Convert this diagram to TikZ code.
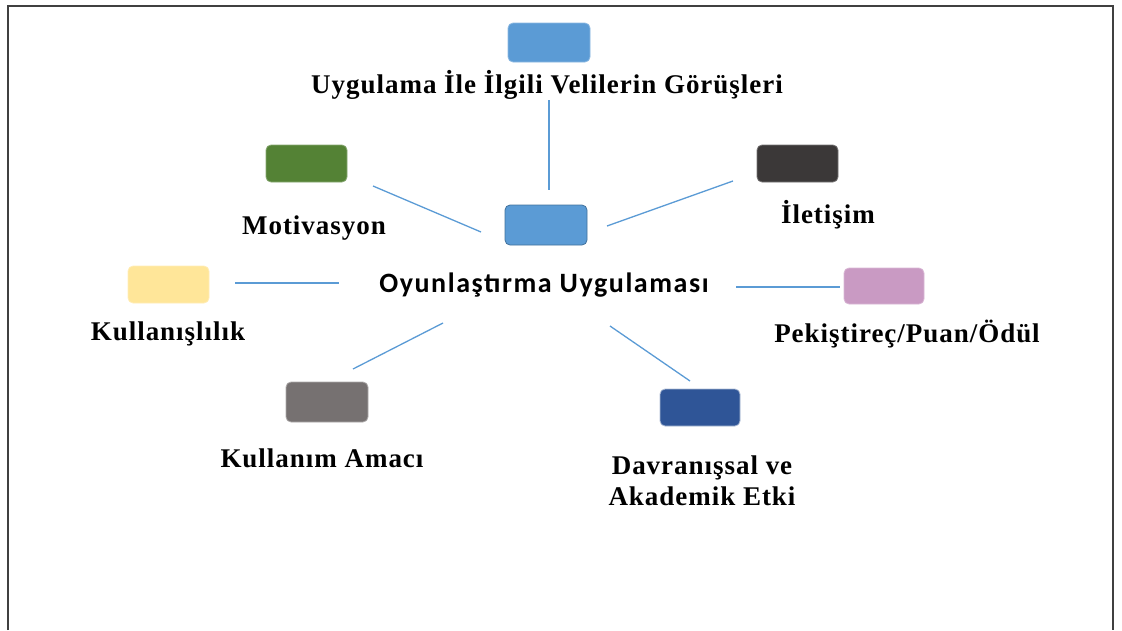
\documentclass[tikz,border=0pt]{standalone}
\usepackage{fontspec}
\setmainfont{Liberation Serif}
\newfontfamily\labelfont{Liberation Serif}[LetterSpace=3.6]
\newfontfamily\hubfont{Carlito}[LetterSpace=5.6]
\definecolor{cBlue}{HTML}{5B9BD5}
\definecolor{cBlueEdge}{HTML}{41719C}
\definecolor{cGreen}{HTML}{548235}
\definecolor{cDark}{HTML}{3B3838}
\definecolor{cYellow}{HTML}{FFE699}
\definecolor{cPink}{HTML}{C99AC3}
\definecolor{cGray}{HTML}{767171}
\definecolor{cNavy}{HTML}{2F5597}
\definecolor{cFrame}{HTML}{404040}
\begin{document}
\begin{tikzpicture}[x=1pt,y=-1pt,
  tile/.style={rounded corners=5pt,line width=0.8pt},
  lbl/.style={anchor=base,inner sep=0pt,align=center,
    font=\labelfont\bfseries\fontsize{27}{31}\selectfont},
  spoke/.style={draw=cBlue,line width=1.3pt}]
\useasboundingbox (0,0) rectangle (1122,630);
% outer frame (open at the bottom)
\draw[cFrame,line width=2pt] (8,630) -- (8,6) -- (1113,6) -- (1113,630);

% coloured tiles
\filldraw[tile,fill=cBlue,draw=cBlue!70!white] (508,23) rectangle (590,62);
\filldraw[tile,fill=cBlue,draw=cBlueEdge] (505,205) rectangle (587,245);
\filldraw[tile,fill=cGreen,draw=cGreen!70!white] (266,145) rectangle (347,182);
\filldraw[tile,fill=cDark,draw=cDark!70!white] (757,145) rectangle (838,182);
\filldraw[tile,fill=cYellow,draw=cYellow!70!white] (128,266) rectangle (209,303);
\filldraw[tile,fill=cPink,draw=cPink!70!white] (844,268) rectangle (924,304);
\filldraw[tile,fill=cGray,draw=cGray!60!white] (286,382) rectangle (368,422);
\filldraw[tile,fill=cNavy,draw=cNavy!40!white] (660,389) rectangle (740,426);

% labels
\node[lbl] (veli) at (547,93) {Uygulama İle İlgili Velilerin Görüşleri};
\node[lbl] (motiv) at (314,234) {Motivasyon};
\node[lbl] (ilet) at (828,223) {İletişim};
\node[anchor=base,inner sep=0pt,font=\hubfont\bfseries\fontsize{28}{32}\selectfont]
  (hub) at (544,292) {Oyunlaştırma Uygulaması};
\node[lbl] (kull) at (168,340) {Kullanışlılık};
\node[lbl] (pek) at (907,342) {Pekiştireç/Puan/Ödül};
\node[lbl] (amac) at (322,467) {Kullanım Amacı};
\node[lbl] (davr) at (702,505) {Davranışsal ve\\Akademik Etki};

% spoke end points
\coordinate (vA) at (549,100);  \coordinate (vB) at (549,190);
\coordinate (mA) at (373,186);  \coordinate (mB) at (481,232);
\coordinate (iA) at (607,226);  \coordinate (iB) at (733,181);
\coordinate (kA) at (235,283);  \coordinate (kB) at (339,283);
\coordinate (pA) at (736,287);  \coordinate (pB) at (840,287);
\coordinate (aA) at (353,369);  \coordinate (aB) at (443,323);
\coordinate (dA) at (610,326);  \coordinate (dB) at (690,381);

\draw[spoke] (vA) -- (vB);
\draw[spoke] (mA) -- (mB);
\draw[spoke] (iA) -- (iB);
\draw[spoke] (kA) -- (kB);
\draw[spoke] (pA) -- (pB);
\draw[spoke] (aA) -- (aB);
\draw[spoke] (dA) -- (dB);
\end{tikzpicture}
\end{document}
